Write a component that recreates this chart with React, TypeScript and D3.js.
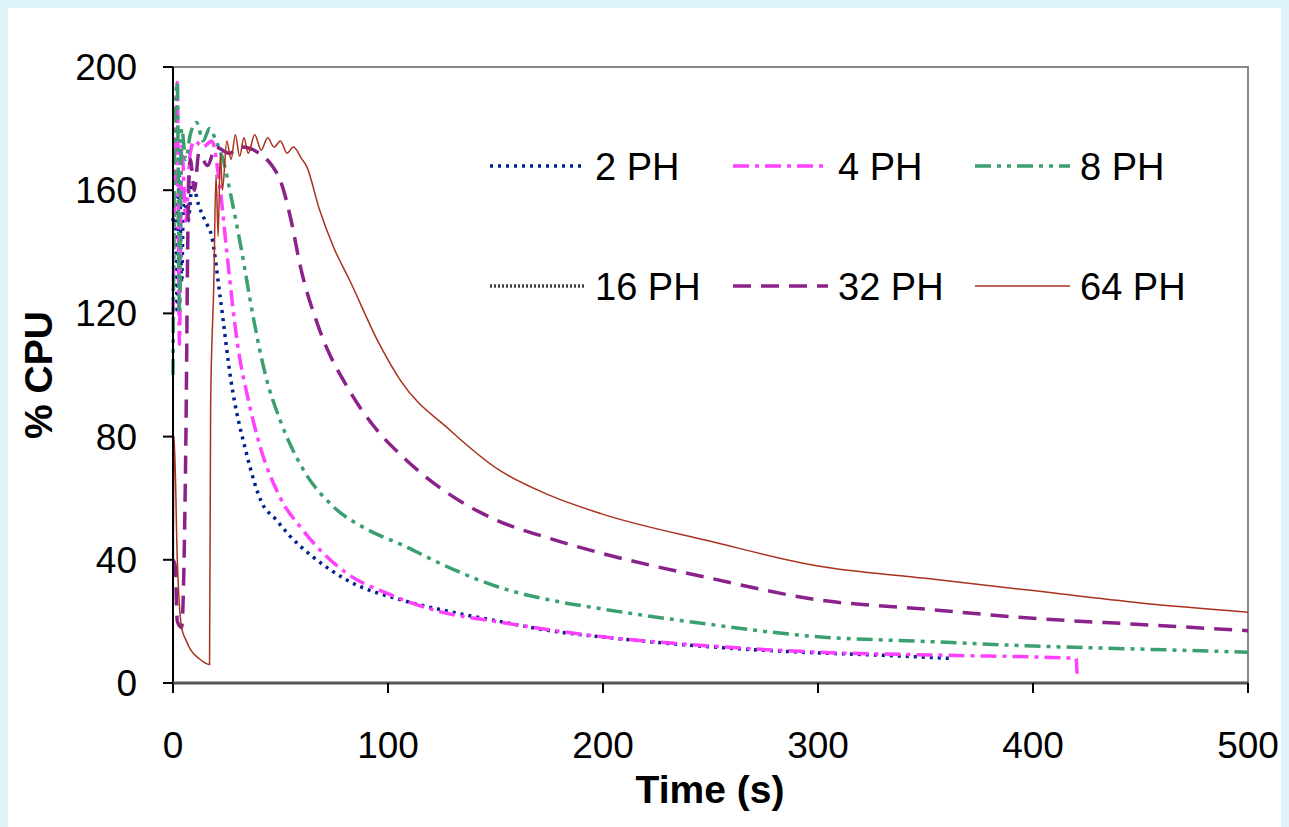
import * as d3 from "d3";

const W = 1289;
const H = 827;
const M = { left: 173, right: 1248, top: 67, bottom: 683 };

type P = [number, number];

const xTicks = [0, 100, 200, 300, 400, 500];
const yTicks = [0, 40, 80, 120, 160, 200];

const ph2: P[] = [
  [0, 150], [1, 158], [2, 120], [3, 165], [4, 130], [5, 160], [7, 150], [9, 162], [12, 155], [15, 150],
  [18, 145], [22, 125], [27, 98], [34, 75], [41, 59], [48, 53], [54, 48], [65, 41], [82, 33], [106, 27],
  [130, 23], [152, 20], [175, 17], [199, 15], [245, 12], [292, 10], [330, 9], [361, 8],
];
const ph4: P[] = [
  [0, 120], [1, 170], [2, 195], [3, 110], [4, 175], [6, 150], [8, 172], [10, 176], [14, 174], [18, 176],
  [22, 160], [25, 140], [30, 110], [35, 92], [40, 78], [50, 60], [60, 50], [80, 36], [100, 29],
  [125, 23], [150, 20], [200, 15], [250, 12], [300, 10], [360, 9], [420, 8], [420.5, 3],
];
const ph8: P[] = [
  [0, 100], [1, 185], [2, 195], [3, 120], [4, 180], [6, 170], [8, 178], [11, 182], [14, 176], [17, 180],
  [20, 176], [24, 168], [27, 158], [32, 140], [37, 120], [43, 100], [50, 85], [60, 70], [75, 57],
  [90, 50], [106, 45], [130, 37], [152, 31], [175, 27], [200, 24], [250, 19], [300, 15], [350, 13.5],
  [400, 12], [450, 11], [500, 10],
];
const ph16: P[] = [];
const ph32: P[] = [
  [0, 40], [1, 38], [2, 20], [4, 18], [6, 80], [7, 150], [8, 170], [10, 160], [12, 172], [16, 168],
  [20, 174], [26, 172], [32, 174], [40, 172], [46, 168], [50, 163], [55, 150], [59, 136], [68, 115],
  [82, 95], [95, 82], [106, 74], [125, 63], [150, 53], [175, 47], [200, 42], [250, 34], [300, 27],
  [350, 24], [400, 21], [450, 19], [500, 17],
];
const ph64: P[] = [
  [0, 0], [0.5, 80], [2, 40], [4, 18], [6, 14], [8, 11], [12, 8], [17, 6], [17.5, 90], [19, 130],
  [20, 165], [21, 145], [22, 172], [23, 160], [25, 176], [27, 170], [29, 178], [31, 171], [33, 177],
  [35, 172], [38, 178], [41, 173], [44, 177], [47, 174], [50, 176], [53, 172], [56, 174], [60, 170],
  [62, 168], [68, 154], [75, 141], [82, 131], [96, 110], [106, 98], [129, 82], [152, 69], [175, 61],
  [199, 55], [250, 46], [300, 38], [350, 34], [400, 30], [450, 26], [500, 23],
];

const series = [
  { name: "2 PH", data: ph2, color: "#00208f", width: 3.5, dash: "3,5" },
  { name: "4 PH", data: ph4, color: "#ff40ff", width: 3.5, dash: "16,6,4,6" },
  { name: "8 PH", data: ph8, color: "#3aa070", width: 3.5, dash: "16,6,4,6,4,6" },
  { name: "16 PH", data: ph16, color: "#444", width: 3.5, dash: "2,2" },
  { name: "32 PH", data: ph32, color: "#8b228b", width: 3.5, dash: "18,10" },
  { name: "64 PH", data: ph64, color: "#a8321c", width: 1.5, dash: "" },
];

const x = d3.scaleLinear().domain([0, 500]).range([M.left, M.right]);
const y = d3.scaleLinear().domain([0, 200]).range([M.bottom, M.top]);
const line = d3.line<P>().x((d) => x(d[0])).y((d) => y(d[1])).curve(d3.curveMonotoneX);

const font = "'Liberation Sans', Arial, sans-serif";
const legendX = [490, 733, 975];

export default function App() {
  return (
    <svg width={W} height={H} style={{ position: "absolute", left: 0, top: 0 }} fontFamily={font}>
      <rect width={W} height={H} fill="#dff3fb" />
      <rect x={8} y={8} width={1273} height={H - 8} fill="#fff" />
      <rect x={M.left} y={M.top} width={M.right - M.left} height={M.bottom - M.top} fill="none" stroke="#888" strokeWidth={2} />
      {series.map((s) => (
        <path key={s.name} d={line(s.data) ?? ""} fill="none" stroke={s.color} strokeWidth={s.width}
          strokeDasharray={s.dash || undefined} />
      ))}
      <line x1={M.left} x2={M.left} y1={M.top} y2={M.bottom} stroke="#000" strokeWidth={2} />
      <line x1={M.left} x2={M.right} y1={M.bottom} y2={M.bottom} stroke="#555" strokeWidth={3} />
      {yTicks.map((t) => (
        <g key={t}>
          <line x1={M.left - 10} x2={M.left} y1={y(t)} y2={y(t)} stroke="#000" strokeWidth={2} />
          <text x={M.left - 36} y={y(t) + 13} textAnchor="end" fontSize={37}>{t}</text>
        </g>
      ))}
      {xTicks.map((t) => (
        <g key={t}>
          <line x1={x(t)} x2={x(t)} y1={M.bottom} y2={M.bottom + 10} stroke="#000" strokeWidth={2} />
          <text x={x(t)} y={M.bottom + 75} textAnchor="middle" fontSize={37}>{t}</text>
        </g>
      ))}
      <text x={710} y={803} textAnchor="middle" fontSize={39} fontWeight="bold">Time (s)</text>
      <text transform={`translate(52,${(M.top + M.bottom) / 2}) rotate(-90)`} textAnchor="middle" fontSize={39} fontWeight="bold">% CPU</text>
      {series.map((s, i) => {
        const cx = legendX[i % 3];
        const ly = i < 3 ? 166 : 286;
        return (
          <g key={s.name}>
            <line x1={cx} x2={cx + 95} y1={ly} y2={ly} stroke={s.color} strokeWidth={s.width}
              strokeDasharray={s.dash || undefined} />
            <text x={cx + 105} y={ly + 14} fontSize={38}>{s.name}</text>
          </g>
        );
      })}
    </svg>
  );
}
